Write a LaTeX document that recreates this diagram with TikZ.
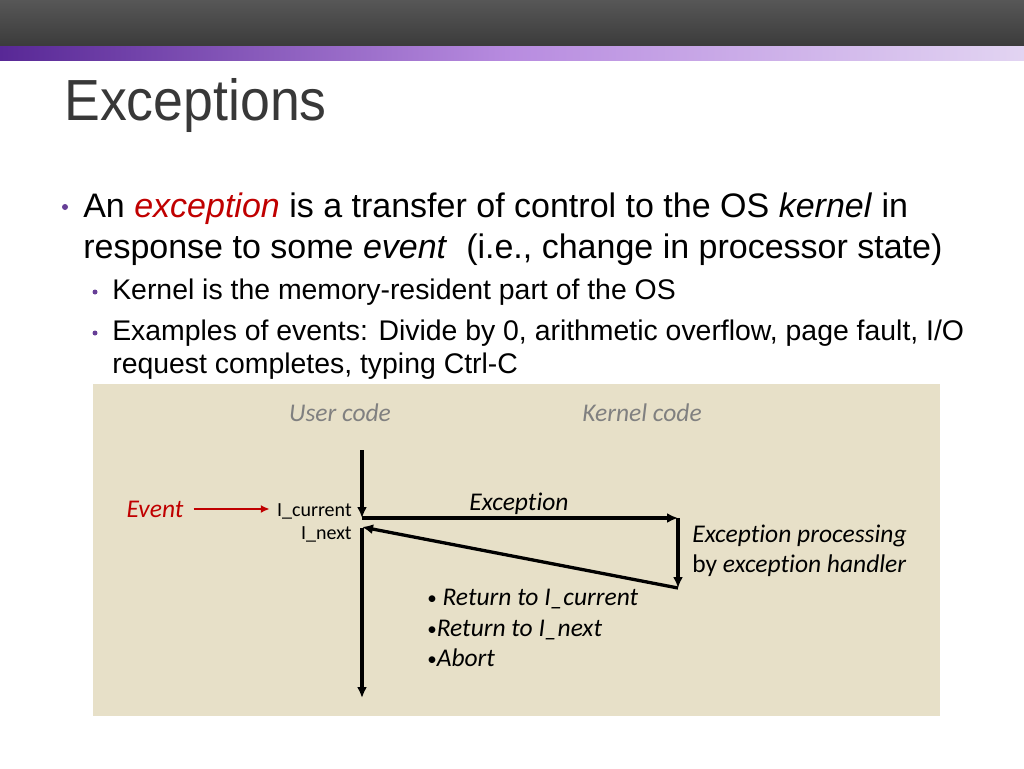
\documentclass[tikz,border=0pt]{standalone}
\usepackage{fontspec}
\setmainfont{Liberation Sans}
\newfontfamily\calibri[Ligatures=NoCommon]{Carlito}
\usetikzlibrary{arrows.meta,positioning}
\definecolor{beige}{RGB}{231,224,200}
\definecolor{crimson}{RGB}{192,0,0}
\definecolor{bulletpurple}{RGB}{102,62,150}
\definecolor{titlegray}{RGB}{56,56,56}
\newcommand{\fs}[1]{\fontsize{#1}{#1}\selectfont}
\newcommand{\bdot}{\raisebox{1pt}{\fs{19}•}}

\begin{document}
\begin{tikzpicture}[x=1pt,y=-1pt,>={Latex[length=11pt,width=10pt]},semithick]
  \tikzstyle{every node}=[inner sep=0pt]
  \tikzstyle{line}=[anchor=base west,text=black]
  \tikzstyle{big}=[line,font=\fs{34}]
  \tikzstyle{small}=[line,font=\fs{28.4}]
  \tikzstyle{diag}=[font=\calibri\fs{25.5}]
  \tikzstyle{flow}=[->,line width=3.3pt]

  \useasboundingbox (0,0) rectangle (1024,768);

  % header bars
  \shade[top color=black!66,bottom color=black!77] (0,0) rectangle (1024,47);
  \shade[left color={rgb,255:red,88;green,40;blue,150},
         right color={rgb,255:red,226;green,212;blue,242},
         middle color={rgb,255:red,184;green,140;blue,224}] (0,47) rectangle (1024,60);

  \node[line,text=titlegray,font=\fs{58}] (T) at (64,120) {\scalebox{0.925}[1]{Exceptions}};

  % bullets
  \fill[bulletpurple] (65,207) circle (3);
  \fill[bulletpurple] (95,292) circle (2.5);
  \fill[bulletpurple] (95,333) circle (2.5);

  \node[big]   (L1) at (83,217) {An \textcolor{crimson}{\textit{exception}} is a transfer of control to the OS \textit{kernel} in};
  \node[big]   (L2) [below=41pt of L1.base west,anchor=base west] {response to some \textit{event}\ \ (i.e., change in processor state)};
  \node[small] (K)  at (112,299) {Kernel is the memory-resident part of the OS};
  \node[small] (X1) [below=41pt of K.base west,anchor=base west] {Examples of events: Divide by 0, arithmetic overflow, page fault, I/O};
  \node[small] (X2) [below=33pt of X1.base west,anchor=base west] {request completes, typing Ctrl-C};

  % diagram
  \fill[beige] (93,384) rectangle (940,716);

  \node[diag,text=gray,font=\calibri\itshape\fs{25.5}] (U)  at (340,413) {User code};
  \node[diag,text=gray,font=\calibri\itshape\fs{25.5}] (KC) at (642,413) {Kernel code};

  \coordinate (utop)  at (362,450);
  \coordinate (Icur)  at (362,518);
  \coordinate (Inext) at (362,527);
  \coordinate (ubot)  at (362,698);
  \coordinate (kin)   at (678,518);
  \coordinate (kout)  at (678,588);

  \node[diag,text=crimson,font=\calibri\itshape\fs{25.5}] (Ev) at (155,509) {Event};
  \node[diag,anchor=base east,font=\calibri\fs{20}] (Cur)  at (352,516) {I\_current};
  \node[diag,anchor=base east,font=\calibri\fs{20}] (Next) at (352,539) {I\_next};

  \node[diag,anchor=base,font=\calibri\itshape\fs{25.5}] (Exc) at (519,510) {Exception};
  \node[diag,anchor=base west] (P1) at (692,542) {\itshape Exception processing};
  \node[diag,anchor=base west] (P2) [below=30pt of P1.base west,anchor=base west] {by \textit{exception handler}};

  \node[diag,anchor=base west] (R1) at (427,605) {\bdot\ \textit{Return to I\_current}};
  \node[diag,anchor=base west] (R2) [below=31pt of R1.base west,anchor=base west] {\bdot\textit{Return to I\_next}};
  \node[diag,anchor=base west] (R3) [below=30pt of R2.base west,anchor=base west] {\bdot\textit{Abort}};

  \draw[-{Latex[length=9pt,width=8pt]},crimson,line width=2.5pt,shorten <=10pt,shorten >=7pt] (Ev.east) -- (Cur.west |- Ev.east);

  \draw[flow] (utop) -- (Icur);
  \draw[flow] (Icur) -- (kin);
  \draw[flow] (kin) -- (kout);
  \draw[flow] (kout) -- (Inext);
  \draw[flow] (Inext) ++(0,1) -- (ubot);
\end{tikzpicture}
\end{document}
